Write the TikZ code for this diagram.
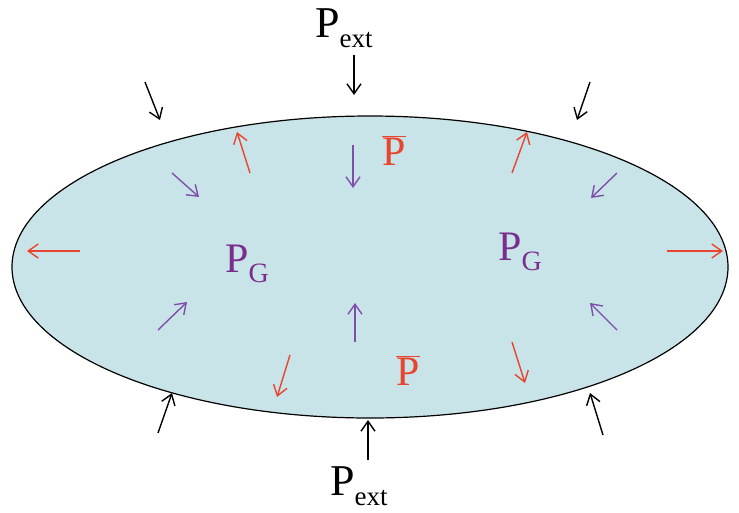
\documentclass[tikz,border=0pt]{standalone}
\usepackage{fontspec}
\setmainfont{Liberation Serif}
\usetikzlibrary{arrows.meta}
\definecolor{fillblue}{HTML}{C9E4E8}
\definecolor{pred}{HTML}{E8452F}
\definecolor{ppurple}{HTML}{7E4FAA}
\definecolor{tpurple}{HTML}{7A2E8C}
\tikzset{
  arr/.style={line width=1.4pt,-{Straight Barb[length=10pt,width=14pt,line width=1.4pt]}},
  blackarr/.style={arr,black},
  redarr/.style={arr,pred},
  purparr/.style={arr,ppurple},
  lbl/.style={inner sep=0pt,anchor=base west}
}
\newcommand{\Pext}{\fontsize{44}{48}\selectfont P\raisebox{-10pt}{\fontsize{27}{29}\selectfont ext}}
\newcommand{\PG}{\fontsize{42}{46}\selectfont P\raisebox{-10pt}{\fontsize{28}{30}\selectfont G}}
\newcommand{\Pbar}{\fontsize{42}{46}\selectfont $\overline{\mbox{P}}$}
\begin{document}
\begin{tikzpicture}[x=1pt,y=-1pt]
\useasboundingbox (0,0) rectangle (739,512);
\draw[fill=fillblue,line width=1.2pt] (370,267) ellipse [x radius=358, y radius=151];
% labels
\node[lbl] (pexttop) at (315,37) {\Pext};
\node[lbl] (pextbot) at (330,495) {\Pext};
\node[lbl,text=tpurple] (pgl) at (225,272) {\PG};
\node[lbl,text=tpurple] (pgr) at (498,260) {\PG};
\node[lbl,text=pred] (pbt) at (382,165) {\Pbar};
\node[lbl,text=pred] (pbb) at (396,385) {\Pbar};
% black external arrows
\draw[blackarr] (354,55) -- (354,95);
\draw[blackarr] (145,82) -- (160,120);
\draw[blackarr] (590,82) -- (577,120);
\draw[blackarr] (158,433) -- (172,393);
\draw[blackarr] (368,460) -- (368,420);
\draw[blackarr] (603,435) -- (590,393);
% red arrows
\draw[redarr] (250,173) -- (237,132);
\draw[redarr] (512,173) -- (527,132);
\draw[redarr] (80,251) -- (27,251);
\draw[redarr] (667,251) -- (723,251);
\draw[redarr] (290,355) -- (277,397);
\draw[redarr] (512,342) -- (525,383);
% purple arrows
\draw[purparr] (172,173) -- (199,197);
\draw[purparr] (617,173) -- (591,198);
\draw[purparr] (353,145) -- (353,188);
\draw[purparr] (158,330) -- (187,302);
\draw[purparr] (355,342) -- (355,303);
\draw[purparr] (617,330) -- (590,303);
\end{tikzpicture}
\end{document}
